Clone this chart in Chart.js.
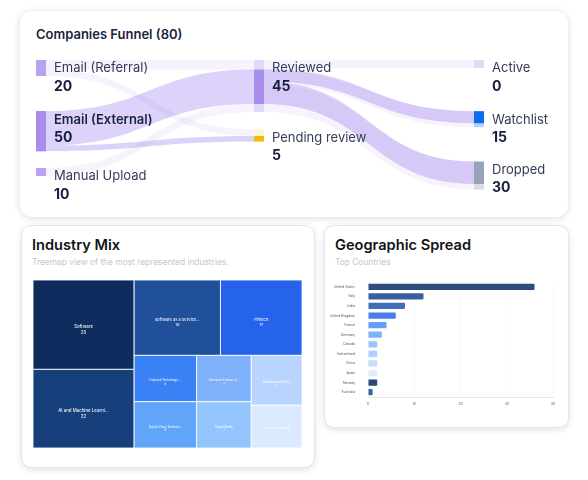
<!DOCTYPE html>
<html>
<head>
<meta charset="utf-8">
<script src="https://cdn.jsdelivr.net/npm/chart.js@4/dist/chart.umd.min.js"></script>
<style>
  html, body { margin: 0; padding: 0; width: 588px; height: 480px; background: #fff; overflow: hidden; font-family: Inter, sans-serif; }
  .card { position: absolute; box-sizing: border-box; background: #fff; }
  .title { position: absolute; white-space: nowrap; font-weight: 600; color: #111318; }
  .sub { position: absolute; white-space: nowrap; font-size: 8.4px; color: #c4c8d0; }
  .holder { position: absolute; }
  canvas { display: block; }
  #funnelCard { left: 20px; top: 11px; width: 548px; height: 206px; border-radius: 12px; box-shadow: 0 1px 7px rgba(30,30,60,.16); }
  #industryCard { left: 21px; top: 225px; width: 294px; height: 243px; border-radius: 10px; border: 1.5px solid #e4e6ee; box-shadow: 0 2px 6px rgba(30,30,60,.12); }
  #geoCard { left: 324px; top: 225px; width: 245px; height: 203px; border-radius: 10px; border: 1.5px solid #e4e6ee; box-shadow: 0 2px 6px rgba(30,30,60,.12); }
</style>
</head>
<body>
<div class="card" id="funnelCard"></div>
<div class="card" id="industryCard"></div>
<div class="card" id="geoCard"></div>

<div class="title" style="left:36px;top:26px;font-size:13px;color:#1b2440;">Companies Funnel (80)</div>
<div class="title" style="left:32px;top:236px;font-size:14.6px;">Industry Mix</div>
<div class="sub" style="left:32px;top:257px;">Treemap view of the most represented industries.</div>
<div class="title" style="left:335px;top:236px;font-size:14.6px;">Geographic Spread</div>
<div class="sub" style="left:335px;top:257px;">Top Countries</div>

<div class="holder" style="left:20px;top:12px;width:548px;height:204px;"><canvas id="funnelChart" width="548" height="204"></canvas></div>
<div class="holder" style="left:33px;top:280px;width:269px;height:168px;"><canvas id="industryChart" width="269" height="168"></canvas></div>
<div class="holder" style="left:325px;top:275px;width:243px;height:145px;"><canvas id="geoChart" width="243" height="145"></canvas></div>

<script>
// funnel data
const stageNames = ['Email (Referral)', 'Email (External)', 'Manual Upload', 'Reviewed', 'Pending review', 'Active', 'Watchlist', 'Dropped'];
const stageCounts = [20, 50, 10, 45, 5, 0, 15, 30];
const stageColumns = [0, 0, 0, 1, 1, 2, 2, 2];
const linkFrom = [0, 0, 1, 1, 2, 3, 3, 3];
const linkTo = [3, 4, 3, 4, 3, 5, 6, 7];
const linkMuted = [12, 8, 0, 0, 10, 10, 5, 7];
const linkHighlighted = [0, 0, 43, 7, 0, 0, 15, 28];

// treemap data
const industryNames = ['Software', 'AI and Machine Learni...', 'Software as a Service...', 'Fintech', 'Financial Technology ...', 'Supply Chain Technolo...', 'Enterprise Finance S...', 'Digital Media', 'Marketing and Sales', 'Consumer Lending'];
const industryCounts = [25, 22, 18, 17, 8, 8, 7, 7, 7, 6];

// countries data
const countryNames = ['United States', 'Italy', 'India', 'United Kingdom', 'France', 'Germany', 'Canada', 'Switzerland', 'China', 'Spain', 'Norway', 'Australia'];
const countryCounts = [36, 12, 8, 6, 4, 3, 2, 2, 2, 2, 2, 1];
const countryTicks = [0, 10, 20, 30, 40];

// styles
const stageSolid = ['#b9a3f1', '#a98ded', '#b9a3f1', '#a98ded', '#f5b90b', '#e2d9fa', '#0b6cf0', '#98a2b8'];
const stagePale = ['#b9a3f1', '#a98ded', '#b9a3f1', '#e2d9fa', '#fdf3d2', '#e2d9fa', '#b5d2fa', '#d9dde7'];
const industryColors = ['#0e2c5d', '#163f7c', '#1f5099', '#2563eb', '#3b82f6', '#60a5fa', '#7fb0fa', '#93c5fd', '#b9d4fe', '#dbeafe'];
const countryColors = ['#2f4c7e', '#3b5f9c', '#416fb6', '#4a7cf0', '#639ff7', '#7fb4fb', '#9cc5fc', '#add0fd', '#c5dcfd', '#e0ebfe', '#2a4878', '#3a63a6'];

const UNIT_PX = 0.8;             // funnel px per company
const COLUMN_X = [16, 234, 454]; // left edge of each funnel column
const NODE_W = 10;
const FUNNEL_TOP = 60;           // in funnel units
const GAPS = [[44, 21], [22], [54, 43]];

Chart.defaults.animation = false;
Chart.defaults.font.family = 'Inter, sans-serif';

function layoutFunnel() {
    const nodes = stageNames.map((name, i) => ({ name, count: stageCounts[i], col: stageColumns[i], solid: stageSolid[i], pale: stagePale[i], inTotal: 0, outTotal: 0 }));
    const links = linkFrom.map((from, i) => ({ from, to: linkTo[i], muted: linkMuted[i], hi: linkHighlighted[i] }));
    links.forEach(l => {
        nodes[l.from].outTotal += l.muted + l.hi;
        nodes[l.to].inTotal += l.muted + l.hi;
    });
    [0, 1, 2].forEach(col => {
        let top = FUNNEL_TOP;
        nodes.filter(n => n.col === col).forEach((n, idx) => {
            n.top = top;
            n.size = Math.max(n.inTotal, n.outTotal);
            n.inCursor = top;
            n.outCursor = top;
            top += n.size + (GAPS[col][idx] || 0);
        });
    });
    // incoming side first, so the solid part of every node is known
    links.forEach(l => {
        const t = nodes[l.to];
        l.hiIn = t.inCursor;
        l.mutedIn = t.inCursor;
        if (l.hi) {
            if (t.hiTop === undefined) t.hiTop = t.inCursor;
            t.hiEnd = t.inCursor + l.hi;
        }
        t.inCursor += l.hi + l.muted;
    });
    nodes.forEach(n => {
        if (n.inTotal === 0) { n.hiTop = n.top; n.hiEnd = n.top + n.size; }
        n.hiCursor = n.hiTop;
    });
    links.forEach(l => {
        const s = nodes[l.from];
        l.mutedOut = s.outCursor;
        s.outCursor += l.hi + l.muted;
        if (l.hi) {
            l.hiOut = s.hiCursor;
            s.hiCursor += l.hi;
        }
    });
    return { nodes, links };
}

const funnel = layoutFunnel();

const funnelPlugin = {
    id: 'funnelPlugin',
    afterDatasetsDraw(chart) {
        const { ctx, scales: { x, y } } = chart;
        const band = (fromX, y0, toX, y1, size, color) => {
            const xa = x.getPixelForValue(fromX), xb = x.getPixelForValue(toX), mid = (xa + xb) / 2;
            const a = y.getPixelForValue(y0), b = y.getPixelForValue(y1);
            const h = y.getPixelForValue(y0 + size) - a;
            ctx.beginPath();
            ctx.moveTo(xa, a);
            ctx.bezierCurveTo(mid, a, mid, b, xb, b);
            ctx.lineTo(xb, b + h);
            ctx.bezierCurveTo(mid, b + h, mid, a + h, xa, a + h);
            ctx.closePath();
            ctx.fillStyle = color;
            ctx.fill();
        };
        ctx.save();
        funnel.links.filter(l => l.muted).forEach(l => {
            const s = funnel.nodes[l.from], t = funnel.nodes[l.to];
            band(COLUMN_X[s.col] + NODE_W, l.mutedOut, COLUMN_X[t.col], l.mutedIn, l.muted + l.hi, 'rgba(124,80,232,.07)');
        });
        funnel.links.filter(l => l.hi).forEach(l => {
            const s = funnel.nodes[l.from], t = funnel.nodes[l.to];
            band(COLUMN_X[s.col] + NODE_W, l.hiOut, COLUMN_X[t.col], l.hiIn, l.hi, 'rgba(124,80,232,.26)');
        });
        funnel.nodes.forEach(n => {
            const left = x.getPixelForValue(COLUMN_X[n.col]);
            const width = x.getPixelForValue(COLUMN_X[n.col] + NODE_W) - left;
            const top = y.getPixelForValue(n.top);
            ctx.fillStyle = n.pale;
            ctx.fillRect(left, top, width, y.getPixelForValue(n.top + n.size) - top);
            if (n.hiTop !== undefined) {
                const hiTop = y.getPixelForValue(n.hiTop);
                ctx.fillStyle = n.solid;
                ctx.fillRect(left, hiTop, width, y.getPixelForValue(n.hiEnd) - hiTop);
            }
            // labels
            ctx.textBaseline = 'middle';
            ctx.textAlign = 'left';
            const tx = left + 18;
            ctx.fillStyle = n.name === 'Email (External)' ? '#1b2440' : '#333b58';
            ctx.font = (n.name === 'Email (External)' ? '600' : '400') + ' 13px Inter, sans-serif';
            ctx.fillText(n.name, tx, top + 8.5);
            ctx.fillStyle = '#161d3d';
            ctx.font = '700 14px Inter, sans-serif';
            ctx.fillText(String(n.count), tx, top + 26.5);
        });
        ctx.restore();
    }
};

new Chart(document.getElementById('funnelChart'), {
    type: 'scatter',
    data: { datasets: [{ data: funnel.nodes.map(n => ({ x: COLUMN_X[n.col], y: n.top })), pointRadius: 0 }] },
    options: {
        responsive: false,
        layout: { padding: 0 },
        plugins: { legend: { display: false }, tooltip: { enabled: false } },
        scales: {
            x: { display: false, min: 0, max: 548 },
            y: { display: false, min: 0, max: 204 / UNIT_PX, reverse: true }
        }
    },
    plugins: [funnelPlugin]
});

// plain squarified treemap layout, values sorted descending
function squarify(values, width, height) {
    const area = width * height / values.reduce((a, b) => a + b, 0);
    const cells = [];
    let x = 0, y = 0, w = width, h = height, i = 0;
    const worst = (row, side) => {
        const sum = row.reduce((a, b) => a + b, 0) * area;
        return Math.max(...row.map(v => Math.max(side * side * v * area / (sum * sum), sum * sum / (side * side * v * area))));
    };
    while (i < values.length) {
        const side = Math.min(w, h);
        const row = [values[i]];
        let j = i + 1;
        while (j < values.length && worst(row.concat(values[j]), side) <= worst(row, side)) {
            row.push(values[j]);
            j++;
        }
        const rowArea = row.reduce((a, b) => a + b, 0) * area;
        const thick = rowArea / side;
        let offset = 0;
        row.forEach((v, k) => {
            const len = v * area / thick;
            if (h <= w) cells.push({ x, y: y + offset, w: thick, h: len, index: i + k });
            else cells.push({ x: x + offset, y, w: len, h: thick, index: i + k });
            offset += len;
        });
        if (h <= w) { x += thick; w -= thick; } else { y += thick; h -= thick; }
        i = j;
    }
    return cells;
}

const industryCanvas = document.getElementById('industryChart');
const industryCells = squarify(industryCounts, industryCanvas.width, industryCanvas.height);

const treemapPlugin = {
    id: 'treemapPlugin',
    afterDatasetsDraw(chart) {
        const { ctx, scales: { x, y } } = chart;
        ctx.save();
        industryCells.forEach(c => {
            const left = x.getPixelForValue(c.x), top = y.getPixelForValue(c.y);
            const right = x.getPixelForValue(c.x + c.w), bottom = y.getPixelForValue(c.y + c.h);
            ctx.fillStyle = industryColors[c.index];
            ctx.fillRect(left, top, right - left, bottom - top);
            ctx.strokeStyle = 'rgba(255,255,255,.85)';
            ctx.lineWidth = 1;
            ctx.strokeRect(left, top, right - left, bottom - top);
            // smaller cells get smaller text
            const count = industryCounts[c.index];
            const size = count >= 20 ? 4.4 : count >= 15 ? 4 : 2.8;
            ctx.fillStyle = 'rgba(255,255,255,.9)';
            ctx.font = '500 ' + size + 'px Inter, sans-serif';
            ctx.textAlign = 'center';
            ctx.textBaseline = 'middle';
            const mid = (top + bottom) / 2;
            ctx.fillText(industryNames[c.index], (left + right) / 2, mid + 2);
            ctx.fillText(String(count), (left + right) / 2, mid + 2 + size * 1.35);
        });
        ctx.restore();
    }
};

new Chart(industryCanvas, {
    type: 'scatter',
    data: { datasets: [{ data: industryCells.map(c => ({ x: c.x, y: c.y })), pointRadius: 0 }] },
    options: {
        responsive: false,
        layout: { padding: 0 },
        plugins: { legend: { display: false }, tooltip: { enabled: false } },
        scales: {
            x: { display: false, min: 0, max: industryCanvas.width },
            y: { display: false, min: 0, max: industryCanvas.height, reverse: true }
        }
    },
    plugins: [treemapPlugin]
});

new Chart(document.getElementById('geoChart'), {
    type: 'bar',
    data: {
        labels: countryNames,
        datasets: [{
            data: countryCounts,
            backgroundColor: countryColors,
            borderRadius: 1,
            barPercentage: 0.66,
            categoryPercentage: 1
        }]
    },
    options: {
        indexAxis: 'y',
        responsive: false,
        layout: { padding: { top: 7, right: 15, left: 0, bottom: 0 } },
        plugins: { legend: { display: false }, tooltip: { enabled: false } },
        scales: {
            x: {
                min: 0,
                max: 40,
                afterFit: scale => { scale.height = 23; },
                afterBuildTicks: scale => { scale.ticks = countryTicks.map(value => ({ value })); },
                grid: { color: '#f3f4f7', drawTicks: false },
                border: { color: '#e6e8ee', dash: [1, 1] },
                ticks: { color: '#5b6170', font: { size: 3.4 }, padding: 5, maxRotation: 0 }
            },
            y: {
                afterFit: scale => { scale.width = 43; },
                grid: { display: false },
                border: { display: false },
                ticks: { color: '#4c5261', font: { size: 3.3 }, padding: 5, autoSkip: false }
            }
        }
    }
});
</script>
</body>
</html>
